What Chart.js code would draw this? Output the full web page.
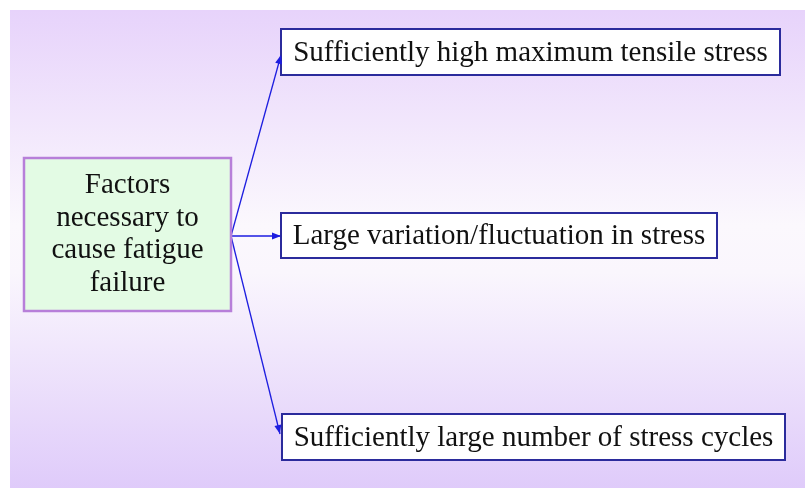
<!DOCTYPE html>
<html>
<head>
<meta charset="utf-8">
<script src="https://cdn.jsdelivr.net/npm/chart.js@4/dist/chart.umd.min.js"></script>
<style>
  html, body { margin: 0; padding: 0; background: #ffffff; }
  #wrap { width: 805px; height: 488px; }
</style>
</head>
<body>
<div id="wrap"><canvas id="c" width="805" height="488"></canvas></div>
<script>
// ---- content ----
const sourceLines = ["Factors", "necessary to", "cause fatigue", "failure"];
const factors = [
  "Sufficiently high maximum tensile stress",
  "Large variation/fluctuation in stress",
  "Sufficiently large number of stress cycles"
];

// ---- layout (positions in axis units == pixels) ----
const layout = {
  source: { x0: 24, y0: 158, x1: 231, y1: 311 },
  targets: [
    { x0: 281, y0: 29, x1: 780, y1: 75, tipX: 281, tipY: 55 },
    { x0: 281, y0: 213, x1: 717, y1: 258, tipX: 281, tipY: 236 },
    { x0: 282, y0: 414, x1: 785, y1: 460, tipX: 280, tipY: 434 }
  ],
  origin: { x: 231, y: 236 }
};

const arrowColor = '#1d1de0';
const FONT = '"Liberation Serif", "Times New Roman", serif';

const datasets = factors.map((label, i) => ({
  label: label,
  data: [
    { x: layout.origin.x, y: layout.origin.y },
    { x: layout.targets[i].tipX, y: layout.targets[i].tipY }
  ],
  showLine: true,
  borderColor: arrowColor,
  borderWidth: 1.3,
  pointRadius: 0,
  fill: false
}));

const bgPlugin = {
  id: 'bg',
  beforeDraw(chart) {
    const ctx = chart.ctx;
    const x = chart.scales.x, y = chart.scales.y;
    const px0 = x.getPixelForValue(10), py0 = y.getPixelForValue(10);
    const px1 = x.getPixelForValue(805), py1 = y.getPixelForValue(488);
    const g = ctx.createLinearGradient(0, py0, 0, py1);
    g.addColorStop(0, '#e7d3fb');
    g.addColorStop(0.45, '#fbf8fd');
    g.addColorStop(0.55, '#faf6fd');
    g.addColorStop(1, '#dfcbfa');
    ctx.save();
    ctx.fillStyle = '#ffffff';
    ctx.fillRect(0, 0, chart.width, chart.height);
    ctx.fillStyle = g;
    ctx.fillRect(px0, py0, px1 - px0, py1 - py0);
    ctx.restore();
  }
};

const boxPlugin = {
  id: 'boxes',
  afterDatasetsDraw(chart) {
    const ctx = chart.ctx;
    const sx = chart.scales.x, sy = chart.scales.y;
    const rect = (b) => {
      const x0 = sx.getPixelForValue(b.x0), x1 = sx.getPixelForValue(b.x1);
      const y0 = sy.getPixelForValue(b.y0), y1 = sy.getPixelForValue(b.y1);
      return { x: x0, y: y0, w: x1 - x0, h: y1 - y0 };
    };
    ctx.save();
    // source box
    const s = rect(layout.source);
    ctx.fillStyle = '#e3fbe4';
    ctx.fillRect(s.x, s.y, s.w, s.h);
    ctx.strokeStyle = '#b77fd9';
    ctx.lineWidth = 2.5;
    ctx.strokeRect(s.x, s.y, s.w, s.h);
    ctx.fillStyle = '#111111';
    ctx.font = '29px ' + FONT;
    ctx.textAlign = 'center';
    ctx.textBaseline = 'middle';
    const lh = 32.5;
    const cy = s.y + s.h / 2;
    sourceLines.forEach((t, i) => {
      ctx.fillText(t, s.x + s.w / 2, cy + (i - (sourceLines.length - 1) / 2) * lh);
    });
    // target boxes
    factors.forEach((t, i) => {
      const r = rect(layout.targets[i]);
      ctx.fillStyle = '#ffffff';
      ctx.fillRect(r.x, r.y, r.w, r.h);
      ctx.strokeStyle = '#2b2b9c';
      ctx.lineWidth = 2;
      ctx.strokeRect(r.x, r.y, r.w, r.h);
      ctx.fillStyle = '#111111';
      ctx.font = '29px ' + FONT;
      ctx.textAlign = 'center';
      ctx.textBaseline = 'middle';
      ctx.fillText(t, r.x + r.w / 2, r.y + r.h / 2 + 1);
    });
    // arrowheads
    chart.data.datasets.forEach((ds, i) => {
      const meta = chart.getDatasetMeta(i);
      const p0 = meta.data[0], p1 = meta.data[1];
      const ang = Math.atan2(p1.y - p0.y, p1.x - p0.x);
      const L = 9, W = 3.5;
      ctx.beginPath();
      ctx.moveTo(p1.x, p1.y);
      ctx.lineTo(p1.x - L * Math.cos(ang) + W * Math.sin(ang), p1.y - L * Math.sin(ang) - W * Math.cos(ang));
      ctx.lineTo(p1.x - L * Math.cos(ang) - W * Math.sin(ang), p1.y - L * Math.sin(ang) + W * Math.cos(ang));
      ctx.closePath();
      ctx.fillStyle = arrowColor;
      ctx.fill();
    });
    ctx.restore();
  }
};

new Chart(document.getElementById('c'), {
  type: 'scatter',
  data: { datasets: datasets },
  options: {
    responsive: false,
    animation: false,
    layout: { padding: 0 },
    plugins: { legend: { display: false }, tooltip: { enabled: false }, title: { display: false } },
    scales: {
      x: { type: 'linear', display: false, min: 0, max: 805 },
      y: { type: 'linear', display: false, min: 0, max: 488, reverse: true }
    },
    elements: { line: { tension: 0 } }
  },
  plugins: [bgPlugin, boxPlugin]
});
</script>
</body>
</html>
